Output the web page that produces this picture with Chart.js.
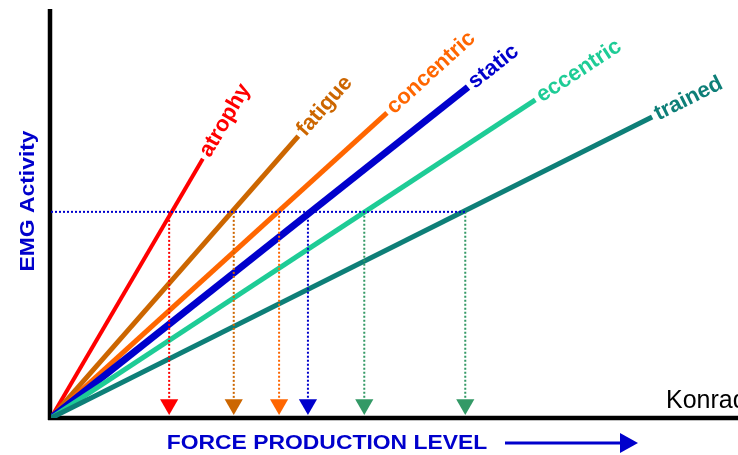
<!DOCTYPE html>
<html>
<head>
<meta charset="utf-8">
<script src="https://cdn.jsdelivr.net/npm/chart.js@4"></script>
<style>
  html, body { margin: 0; padding: 0; background: #fff; }
  canvas { display: block; }
</style>
</head>
<body>
<canvas id="emgChart" width="738" height="455"></canvas>
<script>
// conditions, where each line ends (force %, EMG %)
const categories = ['atrophy', 'fatigue', 'concentric', 'static', 'eccentric', 'trained'];
const forceEnd = [22.1, 36.0, 48.9, 60.7, 70.5, 87.5];
const emgEnd = [63.4, 68.9, 74.6, 80.9, 77.8, 73.6];

// same EMG level, force read where each line crosses it
const emgLevel = 50.4;
const arrowForce = [17.2, 26.6, 33.2, 37.4, 45.6, 60.3];
const arrowBase = 4.6;
const arrowPoint = 3.3;

const lineColors = ['#FF0000', '#CC6600', '#FF6600', '#0000CC', '#1ECC96', '#0E7F78'];
const lineWidths = [4, 5, 5, 7, 5, 5];
const arrowColors = ['#FF0000', '#CC6600', '#FF6600', '#0000CC', '#339966', '#339966'];

const FONT = '"Liberation Sans", Arial, sans-serif';

document.addEventListener('DOMContentLoaded', () => {
    const ctx = document.getElementById('emgChart').getContext('2d');

    const datasets = [];

    // main lines, later ones drawn on top
    categories.forEach((name, i) => {
        datasets.push({
            label: name,
            data: [{ x: 0, y: 0 }, { x: forceEnd[i], y: emgEnd[i] }],
            borderColor: lineColors[i],
            borderWidth: lineWidths[i],
            pointRadius: 0,
            order: 20 - i
        });
    });

    // horizontal dotted line
    datasets.push({
        label: 'level',
        data: [{ x: 0, y: emgLevel }, { x: arrowForce[arrowForce.length - 1], y: emgLevel }],
        borderColor: '#0000CC',
        borderWidth: 2,
        borderDash: [2, 2],
        pointRadius: 0,
        order: 2
    });

    // vertical dotted drops
    arrowForce.forEach((f, i) => {
        datasets.push({
            label: 'drop ' + i,
            data: [{ x: f, y: emgLevel }, { x: f, y: arrowBase }],
            borderColor: arrowColors[i],
            borderWidth: 2,
            borderDash: [2, 2],
            pointRadius: 0,
            order: 2
        });
    });

    // arrow heads
    datasets.push({
        type: 'scatter',
        label: 'heads',
        data: arrowForce.map(f => ({ x: f, y: arrowPoint })),
        pointStyle: 'triangle',
        rotation: 180,
        pointRadius: 10.5,
        backgroundColor: arrowColors,
        borderWidth: 0,
        order: 1
    });

    const axesPlugin = {
        id: 'axes',
        beforeDatasetsDraw(chart) {
            const c = chart.ctx;
            const xs = chart.scales.x, ys = chart.scales.y;
            const x0 = xs.getPixelForValue(0) - 1;
            const y0 = ys.getPixelForValue(0);
            c.save();
            c.strokeStyle = '#000';
            c.lineWidth = 4.5;
            c.beginPath();
            c.moveTo(x0, chart.chartArea.top);
            c.lineTo(x0, y0 + 2);
            c.moveTo(x0 - 2, y0);
            c.lineTo(chart.width, y0);
            c.stroke();
            c.restore();
        },
        afterDatasetsDraw(chart) {
            const c = chart.ctx;
            const xs = chart.scales.x, ys = chart.scales.y;
            const ox = xs.getPixelForValue(0), oy = ys.getPixelForValue(0);
            c.save();
            // labels at the end of each line, along its direction
            c.font = 'bold 22px ' + FONT;
            c.textBaseline = 'alphabetic';
            categories.forEach((name, i) => {
                const ex = xs.getPixelForValue(forceEnd[i]);
                const ey = ys.getPixelForValue(emgEnd[i]);
                const ang = Math.atan2(ey - oy, ex - ox);
                c.save();
                c.translate(ex, ey);
                c.rotate(ang);
                c.fillStyle = lineColors[i];
                c.fillText(name, 4, 6);
                c.restore();
            });

            // axis titles
            c.fillStyle = '#0000CC';
            c.font = 'bold 21px ' + FONT;
            c.textAlign = 'center';
            c.save();
            c.translate(327, 449);
            c.scale(1.09, 1);
            c.fillText('FORCE PRODUCTION LEVEL', 0, 0);
            c.restore();

            c.save();
            c.translate(34, 201);
            c.rotate(-Math.PI / 2);
            c.scale(1.09, 1);
            c.fillText('EMG Activity', 0, 0);
            c.restore();

            // arrow after x title
            c.strokeStyle = '#0000CC';
            c.lineWidth = 3;
            c.beginPath();
            c.moveTo(505, 443);
            c.lineTo(624, 443);
            c.stroke();
            c.beginPath();
            c.moveTo(620, 433);
            c.lineTo(638, 443);
            c.lineTo(620, 453);
            c.closePath();
            c.fill();

            // credit, cut at the edge
            c.fillStyle = '#000';
            c.font = '25px ' + FONT;
            c.textAlign = 'left';
            c.fillText('Konrad', 666, 408);
            c.restore();
        }
    };

    new Chart(ctx, {
        type: 'line',
        data: { datasets },
        options: {
            responsive: false,
            animation: false,
            layout: { autoPadding: false, padding: { left: 51, top: 9, right: 0, bottom: 37 } },
            scales: {
                x: { type: 'linear', min: 0, max: 100, display: false },
                y: { type: 'linear', min: 0, max: 100, display: false }
            },
            plugins: {
                legend: { display: false },
                tooltip: { enabled: false }
            }
        },
        plugins: [axesPlugin]
    });
});
</script>
</body>
</html>
